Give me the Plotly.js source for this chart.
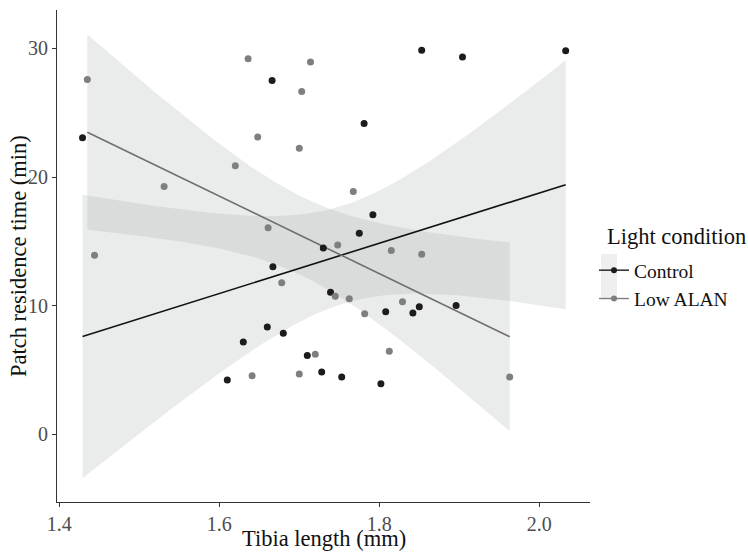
<!DOCTYPE html>
<html><head><meta charset="utf-8">
<script src="https://cdn.plot.ly/plotly-3.0.1.min.js"></script>
<style>html,body{margin:0;padding:0;background:#fff}#chart{width:748px;height:552px}</style>
</head><body><div id="chart"></div>
<script>
// Control group: tibia length (mm) and patch residence time (min)
const controlX = [1.429,1.666,1.781,1.792,1.775,1.730,1.853,1.904,2.033,1.667,1.739,1.808,1.842,1.850,1.896,1.660,1.680,1.630,1.710,1.728,1.753,1.802,1.610];
const controlY = [23.05,27.5,24.16,17.07,15.62,14.49,29.86,29.32,29.81,13.02,11.05,9.53,9.43,9.92,10.02,8.35,7.86,7.18,6.13,4.84,4.45,3.93,4.22];
// Low ALAN group
const alanX = [1.435,1.531,1.620,1.444,1.636,1.714,1.703,1.648,1.700,1.7675,1.661,1.748,1.815,1.853,1.678,1.745,1.7625,1.829,1.7817,1.8125,1.720,1.641,1.700,1.963];
const alanY = [27.57,19.26,20.88,13.92,29.19,28.93,26.64,23.10,22.23,18.87,16.06,14.72,14.28,13.99,11.78,10.74,10.54,10.31,9.38,6.46,6.23,4.55,4.68,4.45];
const groupNames = ["Control","Low ALAN"];
const xTicks = [1.4,1.6,1.8,2.0];
const yTicks = [0,10,20,30];

// linear model fit with 95% confidence band (as geom_smooth(method = "lm"))
function lmBand(xs, ys, tcrit){
  const n = xs.length;
  const mx = xs.reduce((a,b)=>a+b,0)/n, my = ys.reduce((a,b)=>a+b,0)/n;
  let sxx=0, sxy=0;
  for(let i=0;i<n;i++){sxx+=(xs[i]-mx)**2; sxy+=(xs[i]-mx)*(ys[i]-my);}
  const b = sxy/sxx, a = my - b*mx;
  let sse=0; for(let i=0;i<n;i++){sse+=(ys[i]-a-b*xs[i])**2;}
  const s = Math.sqrt(sse/(n-2));
  const lo = Math.min(...xs), hi = Math.max(...xs);
  const gx=[], fit=[], up=[], dn=[];
  const m = 80;
  for(let k=0;k<=m;k++){
    const x = lo + (hi-lo)*k/m;
    const f = a + b*x;
    const hw = tcrit*s*Math.sqrt(1/n + (x-mx)**2/sxx);
    gx.push(x); fit.push(f); up.push(f+hw); dn.push(f-hw);
  }
  return {gx, fit, up, dn};
}
const cB = lmBand(controlX, controlY, 2.080);
const aB = lmBand(alanX, alanY, 2.074);

const colC = "#1c1c1c", colA = "#7f7f7f";
const bandFill = "rgba(150,158,154,0.20)";
const font = "Liberation Serif";

function ribbon(B){
  return {x: B.gx.concat(B.gx.slice().reverse()), y: B.up.concat(B.dn.slice().reverse()),
    type:"scatter", mode:"lines", fill:"toself", fillcolor: bandFill, line:{width:0}, hoverinfo:"skip", showlegend:false};
}
const traces = [
  ribbon(cB), ribbon(aB),
  {x: cB.gx, y: cB.fit, type:"scatter", mode:"lines", line:{color:"#111", width:1.6}, showlegend:false},
  {x: aB.gx, y: aB.fit, type:"scatter", mode:"lines", line:{color:"#6e6e6e", width:1.6}, showlegend:false},
  {x: controlX, y: controlY, type:"scatter", mode:"markers", marker:{color:colC, size:7}, showlegend:false},
  {x: alanX, y: alanY, type:"scatter", mode:"markers", marker:{color:colA, size:7}, showlegend:false},
  {x:[null], y:[null], type:"scatter", mode:"lines+markers", name:groupNames[0], line:{color:colC,width:1.4}, marker:{color:colC,size:6}},
  {x:[null], y:[null], type:"scatter", mode:"lines+markers", name:groupNames[1], line:{color:colA,width:1.4}, marker:{color:colA,size:6}}
];

// plot area in pixels: x 57..590, y 10..502
const px = v => (v-57)/533, py = v => (502-v)/492;

const layout = {
  width:748, height:552,
  margin:{l:57, r:158, t:10, b:50},
  paper_bgcolor:"#fff", plot_bgcolor:"#fff",
  font:{family:font, color:"#4d4d4d", size:20},
  xaxis:{range:[1.3971,2.0634], tickvals:xTicks, ticktext:xTicks.map(v=>v.toFixed(1)),
    showline:true, linecolor:"#333", linewidth:1, ticks:"outside", ticklen:4, tickcolor:"#333",
    showgrid:false, zeroline:false, tickfont:{family:font, size:20, color:"#4d4d4d"}},
  yaxis:{range:[-5.26,32.98], tickvals:yTicks, ticktext:yTicks.map(String),
    showline:true, linecolor:"#333", linewidth:1, ticks:"outside", ticklen:4, tickcolor:"#333",
    showgrid:false, zeroline:false, tickfont:{family:font, size:20, color:"#4d4d4d"}},
  legend:{x:px(594), y:py(251), xanchor:"left", yanchor:"top", bgcolor:"rgba(0,0,0,0)",
    font:{family:font, size:19.5, color:"#111"}, itemwidth:30, tracegroupgap:0},
  shapes:[
    {type:"rect", xref:"paper", yref:"paper", x0:px(601), x1:px(617), y0:py(254), y1:py(299),
     fillcolor:"#eeefee", line:{width:0}, layer:"below"}
  ],
  annotations:[
    {text:"Tibia length (mm)", xref:"paper", yref:"paper", x:px(324), y:py(538.5), xanchor:"center", yanchor:"middle",
     showarrow:false, font:{family:font, size:22.5, color:"#111"}},
    {text:"Patch residence time (min)", xref:"paper", yref:"paper", x:px(18), y:py(256), xanchor:"center", yanchor:"middle",
     textangle:-90, showarrow:false, font:{family:font, size:22.5, color:"#111"}},
    {text:"Light condition", xref:"paper", yref:"paper", x:px(605), y:py(236), xanchor:"left", yanchor:"middle",
     showarrow:false, font:{family:font, size:22.5, color:"#111"}}
  ],
  showlegend:true
};
Plotly.newPlot("chart", traces, layout, {staticPlot:true, displayModeBar:false});
</script></body></html>
